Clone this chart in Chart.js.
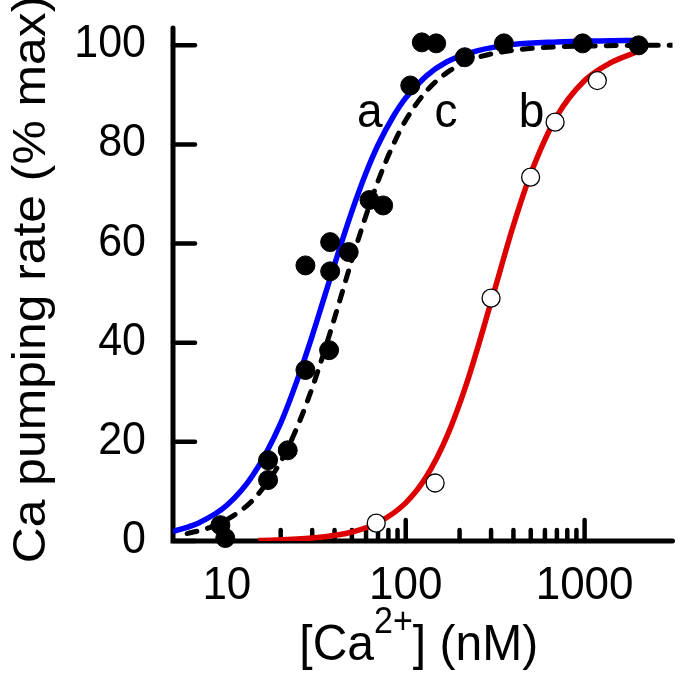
<!DOCTYPE html>
<html>
<head>
<meta charset="utf-8">
<script src="https://cdn.jsdelivr.net/npm/chart.js@4"></script>
<style>
    html, body { margin: 0; padding: 0; background: #fff; }
</style>
</head>
<body>
<canvas id="grafico" width="683" height="676"></canvas>
<script>
// Ejes
const ejeXMin = 5, ejeXMax = 3100;
const ejeYMin = 0, ejeYMax = 103.5;
const ticksY = [0, 20, 40, 60, 80, 100];
const ticksXMayores = [10, 100, 1000];
const ticksXMenores = [20, 30, 40, 50, 60, 70, 80, 90, 200, 300, 400, 500, 600, 700, 800, 900];

// Puntos llenos (curvas a y c)
const llenosX = [9.2, 9.8, 17, 17, 21.9, 27.5, 27.5, 37.3, 37.8, 37.8, 48, 62.7, 74.8, 106, 123, 148, 214, 354, 975, 2005];
const llenosY = [3.2, 0.6, 16.3, 12.3, 18.3, 34.5, 55.6, 38.5, 60.3, 54.4, 58.3, 68.8, 67.7, 91.9, 100.6, 100.4, 97.6, 100.4, 100.4, 100];

// Puntos abiertos (curva b)
const abiertosX = [68.4, 146, 300, 499, 684, 1178];
const abiertosY = [3.6, 11.7, 49.0, 73.4, 84.5, 92.9];

// Curva a (azul)
const curvaAX = [5, 7, 10, 14, 20, 25, 30, 35, 40, 50, 60, 70, 85, 100, 130, 170, 250, 400, 700, 1200, 2000];
const curvaAY = [1.9, 3.7, 7.2, 13.3, 23.8, 32.9, 41.4, 49.1, 55.8, 66.5, 74.3, 79.9, 85.6, 89.4, 93.8, 96.7, 98.9, 100.2, 100.7, 100.9, 101.0];

// Curva c (discontinua)
const curvaCX = [6, 8, 10, 14, 20, 25, 30, 35, 40, 50, 60, 70, 85, 100, 130, 170, 250, 400, 700, 1200, 2000, 3100];
const curvaCY = [1.5, 2.7, 4.3, 8.3, 16.0, 23.4, 30.9, 38.2, 45.0, 56.7, 65.7, 72.6, 79.9, 84.9, 90.7, 94.5, 97.5, 99.0, 99.7, 99.9, 100, 100];

// Curva b (roja)
const curvaBX = [15, 30, 50, 70, 100, 130, 170, 220, 300, 400, 500, 700, 1000, 1400, 2000];
const curvaBY = [0.1, 0.6, 1.8, 3.7, 7.7, 12.9, 21.1, 32.0, 48.2, 63.7, 74.1, 85.7, 92.9, 96.5, 98.8];

// Letras sobre las curvas
const etiquetas = ['a', 'c', 'b'];
const etiquetasX = [63, 168, 505];
const etiquetasY = [83.5, 83.5, 83.5];

const tituloY = 'Ca pumping rate (% max)';
const fuente = '"Liberation Sans", Arial, sans-serif';
const ESTIRA = 1.06; // el texto del original esta algo estirado en vertical

function pares(xs, ys) {
    return xs.map((x, i) => ({ x: x, y: ys[i] }));
}

function texto(ctx, str, x, y, size, align) {
    ctx.save();
    ctx.translate(x, y);
    ctx.scale(1, ESTIRA);
    ctx.font = size + 'px ' + fuente;
    ctx.textAlign = align;
    ctx.textBaseline = 'alphabetic';
    ctx.fillText(str, 0, 0);
    ctx.restore();
}

const ejesPlugin = {
    id: 'ejes',
    beforeDatasetsDraw(chart) {
        const { ctx, chartArea: a, scales: { x, y } } = chart;
        ctx.save();
        ctx.strokeStyle = '#000';
        ctx.lineCap = 'round';

        // marcas del eje y (hacia dentro)
        ctx.lineWidth = 4.5;
        y.ticks.forEach(t => {
            const py = y.getPixelForValue(t.value);
            ctx.beginPath();
            ctx.moveTo(a.left, py);
            ctx.lineTo(a.left + 22, py);
            ctx.stroke();
        });

        // marcas del eje x (hacia arriba)
        x.ticks.forEach(t => {
            const px = x.getPixelForValue(t.value);
            ctx.beginPath();
            ctx.moveTo(px, a.bottom);
            ctx.lineTo(px, a.bottom - (t.major ? 21 : 11));
            ctx.stroke();
        });

        // ejes
        ctx.lineWidth = 5;
        ctx.beginPath();
        ctx.moveTo(a.left, a.top);
        ctx.lineTo(a.left, a.bottom);
        ctx.lineTo(a.right, a.bottom);
        ctx.stroke();
        ctx.restore();
    },
    afterDraw(chart) {
        const { ctx, chartArea: a, scales: { x, y } } = chart;
        ctx.save();
        ctx.fillStyle = '#000';

        // etiquetas del eje y
        y.ticks.forEach(t => {
            texto(ctx, String(t.value), 146, y.getPixelForValue(t.value) + 12, 43, 'right');
        });

        // etiquetas del eje x
        x.ticks.filter(t => t.major).forEach(t => {
            texto(ctx, String(t.value), x.getPixelForValue(t.value), 599, 44, 'center');
        });

        // letras a, c, b
        etiquetas.forEach((et, i) => {
            texto(ctx, et, x.getPixelForValue(etiquetasX[i]), y.getPixelForValue(etiquetasY[i]), 46, 'center');
        });

        // titulo del eje y
        ctx.save();
        ctx.translate(45, (a.top + a.bottom) / 2 - 5);
        ctx.scale(1, ESTIRA);
        ctx.rotate(-Math.PI / 2);
        ctx.font = '47px ' + fuente;
        ctx.textAlign = 'center';
        ctx.textBaseline = 'alphabetic';
        ctx.fillText(tituloY, 0, 0);
        ctx.restore();

        // titulo del eje x con superindice
        const grande = '48px ' + fuente, chico = '34px ' + fuente;
        ctx.font = grande;
        const w1 = ctx.measureText('[Ca').width;
        const w3 = ctx.measureText('] (nM)').width;
        ctx.font = chico;
        const w2 = ctx.measureText('2+').width;
        let x0 = (a.left + a.right) / 2 - (w1 + w2 + w3) / 2 - 4;
        texto(ctx, '[Ca', x0, 660, 48, 'left');
        texto(ctx, '2+', x0 + w1, 633, 34, 'left');
        texto(ctx, '] (nM)', x0 + w1 + w2, 660, 48, 'left');

        ctx.restore();
    }
};

const ctx = document.getElementById('grafico').getContext('2d');
new Chart(ctx, {
    type: 'scatter',
    data: {
        datasets: [
            {
                label: 'llenos',
                data: pares(llenosX, llenosY),
                pointRadius: 9.5,
                pointBackgroundColor: '#000',
                pointBorderColor: '#000',
                pointBorderWidth: 1,
                showLine: false,
                clip: false,
                order: 0
            },
            {
                label: 'abiertos',
                data: pares(abiertosX, abiertosY),
                pointRadius: 9,
                pointBackgroundColor: '#fff',
                pointBorderColor: '#000',
                pointBorderWidth: 1.3,
                showLine: false,
                clip: false,
                order: 1
            },
            {
                label: 'c',
                data: pares(curvaCX, curvaCY),
                showLine: true,
                pointRadius: 0,
                borderColor: '#000',
                borderWidth: 5,
                borderDash: [10, 11],
                borderCapStyle: 'round',
                cubicInterpolationMode: 'monotone',
                order: 2
            },
            {
                label: 'a',
                data: pares(curvaAX, curvaAY),
                showLine: true,
                pointRadius: 0,
                borderColor: 'rgb(0, 0, 255)',
                borderWidth: 5.5,
                cubicInterpolationMode: 'monotone',
                order: 3
            },
            {
                label: 'b',
                data: pares(curvaBX, curvaBY),
                showLine: true,
                pointRadius: 0,
                borderColor: 'rgb(220, 0, 0)',
                borderWidth: 5.5,
                cubicInterpolationMode: 'monotone',
                order: 4
            }
        ]
    },
    options: {
        responsive: false,
        animation: false,
        devicePixelRatio: 1,
        layout: { padding: { top: 28, right: 1, bottom: 0, left: 0 } },
        plugins: {
            legend: { display: false },
            tooltip: { enabled: false }
        },
        scales: {
            x: {
                type: 'logarithmic',
                min: ejeXMin,
                max: ejeXMax,
                grid: { display: false },
                border: { display: false },
                ticks: { display: false, autoSkip: false },
                afterBuildTicks(scale) {
                    scale.ticks = ticksXMayores.concat(ticksXMenores)
                        .sort((p, q) => p - q)
                        .map(v => ({ value: v, major: ticksXMayores.includes(v) }));
                },
                afterFit(scale) { scale.height = 135; }
            },
            y: {
                type: 'linear',
                min: ejeYMin,
                max: ejeYMax,
                grid: { display: false },
                border: { display: false },
                ticks: { display: false },
                afterBuildTicks(scale) {
                    scale.ticks = ticksY.map(v => ({ value: v }));
                },
                afterFit(scale) { scale.width = 173; }
            }
        }
    },
    plugins: [ejesPlugin]
});
</script>
</body>
</html>
